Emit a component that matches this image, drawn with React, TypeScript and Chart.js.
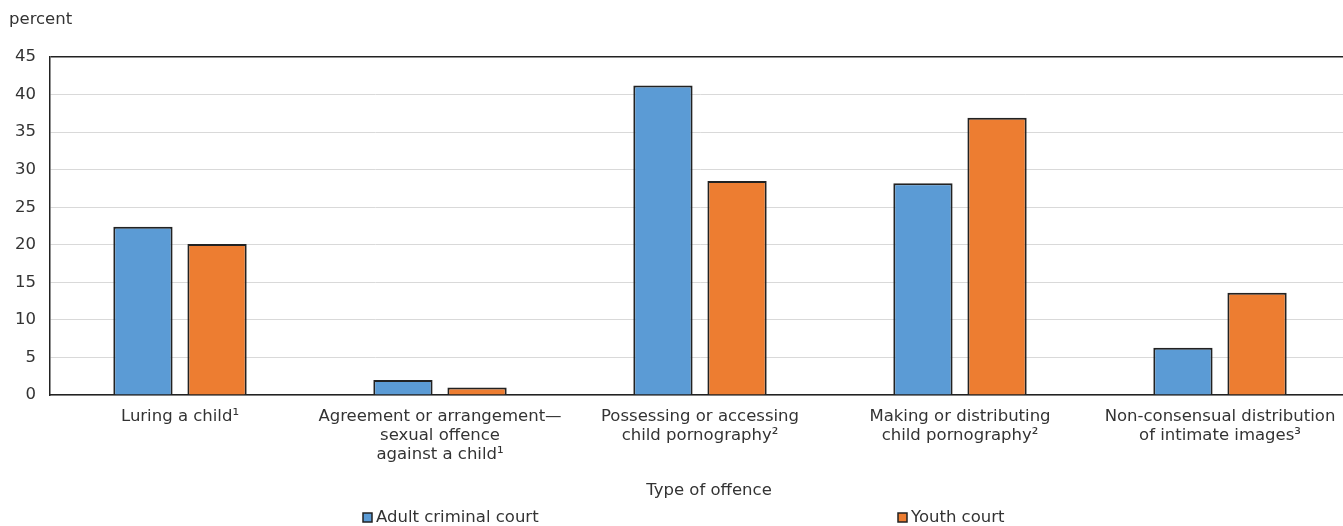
import React, { useEffect, useRef } from "react";
import { Chart, registerables } from "chart.js";

Chart.register(...registerables);

const categories: string[][] = [
  ["Luring a child¹"],
  ["Agreement or arrangement—", "sexual offence", "against a child¹"],
  ["Possessing or accessing", "child pornography²"],
  ["Making or distributing", "child pornography²"],
  ["Non-consensual distribution", "of intimate images³"],
];
const adultValues = [22.4, 2.0, 41.2, 28.2, 6.3];
const youthValues = [20.1, 1.0, 28.5, 36.9, 13.6];
const seriesNames = ["Adult criminal court", "Youth court"];
const yMin = 0;
const yMax = 45;
const yStep = 5;
const yTitle = "percent";
const xTitle = "Type of offence";

const FONT = "'DejaVu Sans', Verdana, sans-serif";
const FS = 16.5;
const TEXT = "#333";
const BLUE = "#5B9BD5";
const ORANGE = "#ED7D31";
const EDGE = "#222";

const decor = {
  id: "decor",
  afterDraw(chart: any) {
    const ctx = chart.ctx;
    ctx.save();
    ctx.font = `${FS}px ${FONT}`;
    ctx.fillStyle = TEXT;
    ctx.textBaseline = "middle";
    ctx.textAlign = "left";
    ctx.fillText(yTitle, 9, 20);
    ctx.textAlign = "center";
    ctx.fillText(xTitle, 709, 491);
    const items = [
      { x: 363, color: BLUE, label: chart.data.datasets[0].label },
      { x: 898, color: ORANGE, label: chart.data.datasets[1].label },
    ];
    ctx.textAlign = "left";
    for (const it of items) {
      ctx.fillStyle = it.color;
      ctx.fillRect(it.x, 513, 9, 9);
      ctx.strokeStyle = EDGE;
      ctx.lineWidth = 1.5;
      ctx.strokeRect(it.x, 513, 9, 9);
      ctx.fillStyle = TEXT;
      ctx.fillText(it.label, it.x + 13, 518);
    }
    ctx.restore();
  },
};

export default function App() {
  const ref = useRef<HTMLCanvasElement>(null);
  useEffect(() => {
    if (!ref.current) return;
    const chart = new Chart(ref.current, {
      type: "bar",
      data: {
        labels: categories,
        datasets: [
          {
            label: seriesNames[0],
            data: adultValues,
            backgroundColor: BLUE,
            borderColor: EDGE,
            borderWidth: 2,
            categoryPercentage: 0.57,
            barPercentage: 0.8,
          },
          {
            label: seriesNames[1],
            data: youthValues,
            backgroundColor: ORANGE,
            borderColor: EDGE,
            borderWidth: 2,
            categoryPercentage: 0.57,
            barPercentage: 0.8,
          },
        ],
      },
      options: {
        animation: false,
        responsive: false,
        maintainAspectRatio: false,
        layout: { padding: { top: 57, left: 0, right: 10, bottom: 0 } },
        plugins: {
          legend: { display: false },
          tooltip: { enabled: false },
          title: { display: false },
        },
        scales: {
          x: {
            grid: { display: false, drawTicks: false },
            border: { display: true, color: EDGE, width: 1.5 },
            ticks: {
              color: TEXT,
              font: { family: FONT, size: FS, lineHeight: 19 / FS },
              padding: 12,
              maxRotation: 0,
              autoSkip: false,
            },
            afterFit(scale: any) {
              scale.height = 131;
            },
          },
          y: {
            min: yMin,
            max: yMax,
            grid: {
              color: (c: any) => (c.tick && c.tick.value === yMax ? EDGE : "#d9d9d9"),
              lineWidth: (c: any) => (c.tick && c.tick.value === yMax ? 1.5 : 1),
              drawTicks: false,
            },
            border: { display: true, color: EDGE, width: 1.5 },
            ticks: {
              stepSize: yStep,
              color: TEXT,
              font: { family: FONT, size: FS },
              padding: 14,
            },
            afterFit(scale: any) {
              scale.width = 50;
            },
          },
        },
      },
      plugins: [decor],
    });
    return () => chart.destroy();
  }, []);
  return (
    <div style={{ position: "fixed", left: 0, top: 0, width: 1343, height: 526, overflow: "hidden", background: "#fff" }}>
      <canvas ref={ref} width={1360} height={526} style={{ width: 1360, height: 526 }} />
    </div>
  );
}
